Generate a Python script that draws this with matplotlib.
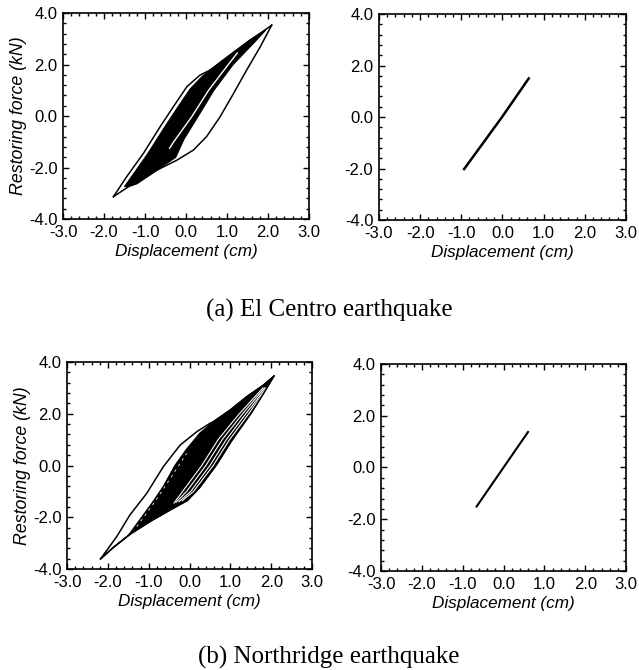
import numpy as np
import matplotlib
matplotlib.use("Agg")
import matplotlib.pyplot as plt
from matplotlib.ticker import MultipleLocator, FormatStrFormatter

plt.rcParams['font.family'] = ['Liberation Sans', 'DejaVu Sans']
plt.rcParams['axes.unicode_minus'] = False

# ---- El Centro, left model (hysteretic) ----
ec_up_x = [-1.77, -1.45, -1.04, -0.63, -0.31, 0.02, 0.34, 0.59, 1.07, 1.56, 1.85, 2.09]
ec_up_y = [-3.13, -2.36, -1.45, -0.41, 0.36, 1.14, 1.59, 1.79, 2.37, 2.95, 3.26, 3.53]
ec_lo_x = [2.09, 1.81, 1.48, 1.16, 0.83, 0.50, 0.18, -0.22, -0.71, -1.20, -1.38, -1.77]
ec_lo_y = [3.53, 2.69, 1.79, 0.88, -0.03, -0.80, -1.32, -1.71, -2.10, -2.62, -2.72, -3.13]
ec_fill_x = [-1.50, -1.35, -0.95, -0.53, -0.22, 0.10, 0.40, 0.59, 1.07, 1.56, 1.95,
             1.72, 1.15, 0.68, 0.30, -0.05, -0.25, -0.71, -1.20, -1.38, -1.50]
ec_fill_y = [-2.74, -2.40, -1.50, -0.45, 0.30, 1.05, 1.55, 1.79, 2.37, 2.95, 3.35,
             2.95, 2.00, 1.00, 0.00, -0.90, -1.60, -2.10, -2.62, -2.72, -2.74]
ec_white_x = [-0.40, -0.30, 0.15, 0.55, 1.03, 1.25]
ec_white_y = [-1.25, -1.00, 0.00, 1.00, 2.00, 2.45]

# ---- El Centro, right model (linear) ----
ec_lin_x = [-0.93, 0.0, 0.64]
ec_lin_y = [-2.02, 0.02, 1.50]

# ---- Northridge, left model (hysteretic) ----
nr_up_x = [-2.18, -1.78, -1.46, -1.05, -0.64, -0.23, 0.18, 0.50, 0.58, 0.99, 1.40, 1.81, 2.07]
nr_up_y = [-3.61, -2.74, -1.91, -1.08, -0.04, 0.79, 1.31, 1.63, 1.69, 2.14, 2.66, 3.11, 3.46]
nr_lo_x = [2.07, 1.80, 1.50, 1.05, 0.65, 0.25, -0.05, -0.45, -0.95, -1.45, -1.85, -2.18]
nr_lo_y = [3.46, 2.75, 2.00, 1.00, 0.00, -0.85, -1.35, -1.70, -2.15, -2.65, -3.15, -3.61]
# left edge of the dense (black) band, bottom to top
nr_band_x = [-1.90, -1.50, -1.22, -0.92, -0.64, -0.36, -0.08, 0.25, 0.58, 0.99, 1.40, 1.81]
nr_band_y = [-3.20, -2.70, -2.10, -1.45, -0.80, 0.00, 0.62, 1.25, 1.69, 2.14, 2.66, 3.11]
# thin white gaps between the last loops
nr_gap_x = [[-0.38, -0.17, 0.30, 0.70, 1.22, 1.80],
            [-0.33, -0.07, 0.40, 0.80, 1.30, 1.84],
            [-0.26, 0.03, 0.50, 0.90, 1.38, 1.88],
            [-0.18, 0.10, 0.58, 0.98, 1.45, 1.90]]
nr_gap_y = [[-1.45, -1.00, 0.00, 1.00, 2.00, 3.00],
            [-1.42, -1.00, 0.00, 1.00, 2.00, 3.00],
            [-1.40, -1.00, 0.00, 1.00, 2.00, 3.00],
            [-1.36, -1.00, 0.00, 1.00, 2.00, 3.00]]
nr_dash_x = [-1.29, -0.85, -0.45, -0.07]
nr_dash_y = [-2.36, -1.40, -0.45, 0.47]

# ---- Northridge, right model (linear) ----
nr_lin_x = [-0.66, 0.0, 0.60]
nr_lin_y = [-1.51, 0.0, 1.37]

captions = ["(a) El Centro earthquake", "(b) Northridge earthquake"]
xlabel = "Displacement (cm)"
ylabel = "Restoring force (kN)"

fig = plt.figure(figsize=(6.39, 6.70), dpi=100)


def style(ax, left_label):
    ax.set_xlim(-3, 3)
    ax.set_ylim(-4, 4)
    ax.xaxis.set_major_locator(MultipleLocator(1.0))
    ax.xaxis.set_minor_locator(MultipleLocator(0.2))
    ax.yaxis.set_major_locator(MultipleLocator(2.0))
    ax.yaxis.set_minor_locator(MultipleLocator(0.4))
    ax.xaxis.set_major_formatter(FormatStrFormatter('%.1f'))
    ax.yaxis.set_major_formatter(FormatStrFormatter('%.1f'))
    ax.tick_params(which='both', direction='in', top=True, right=True,
                   width=1.0, labelsize=12, colors='black')
    ax.tick_params(which='major', length=4, pad=4)
    ax.tick_params(which='minor', length=2)
    for s in ax.spines.values():
        s.set_linewidth(1.2)
    ax.set_xlabel(xlabel, fontsize=12.3, style='italic', labelpad=3)
    if left_label:
        ax.set_ylabel(ylabel, fontsize=12.8, style='italic', labelpad=1)


# top-left
ax = fig.add_axes([0.0986, 0.673, 0.385, 0.3075])
ax.fill(ec_fill_x, ec_fill_y, color='black', lw=0.8)
ax.plot(ec_white_x, ec_white_y, color='white', lw=1.0)
ax.plot(ec_up_x, ec_up_y, color='black', lw=1.1)
ax.plot(ec_lo_x, ec_lo_y, color='black', lw=1.1)
style(ax, True)

# top-right
ax = fig.add_axes([0.593, 0.6716, 0.3865, 0.3075])
ax.plot(ec_lin_x, ec_lin_y, color='black', lw=1.8)
style(ax, False)

# bottom-left
ax = fig.add_axes([0.1049, 0.1507, 0.3834, 0.309])
ax.fill(nr_band_x + nr_lo_x, nr_band_y + nr_lo_y, color='black', lw=0.8)
for xs, ys in zip(nr_gap_x, nr_gap_y):
    ax.plot(xs, ys, color='white', lw=0.8)
ax.plot(nr_dash_x, nr_dash_y, color='white', lw=0.6, ls=(0, (3, 5)))
ax.plot(nr_up_x, nr_up_y, color='black', lw=1.1)
ax.plot(nr_lo_x, nr_lo_y, color='black', lw=1.1)
style(ax, True)

# bottom-right
ax = fig.add_axes([0.5963, 0.1478, 0.3834, 0.309])
ax.plot(nr_lin_x, nr_lin_y, color='black', lw=1.5)
style(ax, False)

fig.text(0.516, 0.536, captions[0], ha='center', va='center',
         fontsize=18, family='Liberation Serif')
fig.text(0.515, 0.0194, captions[1], ha='center', va='center',
         fontsize=18, family='Liberation Serif')

fig.savefig("out.png", dpi=100)
